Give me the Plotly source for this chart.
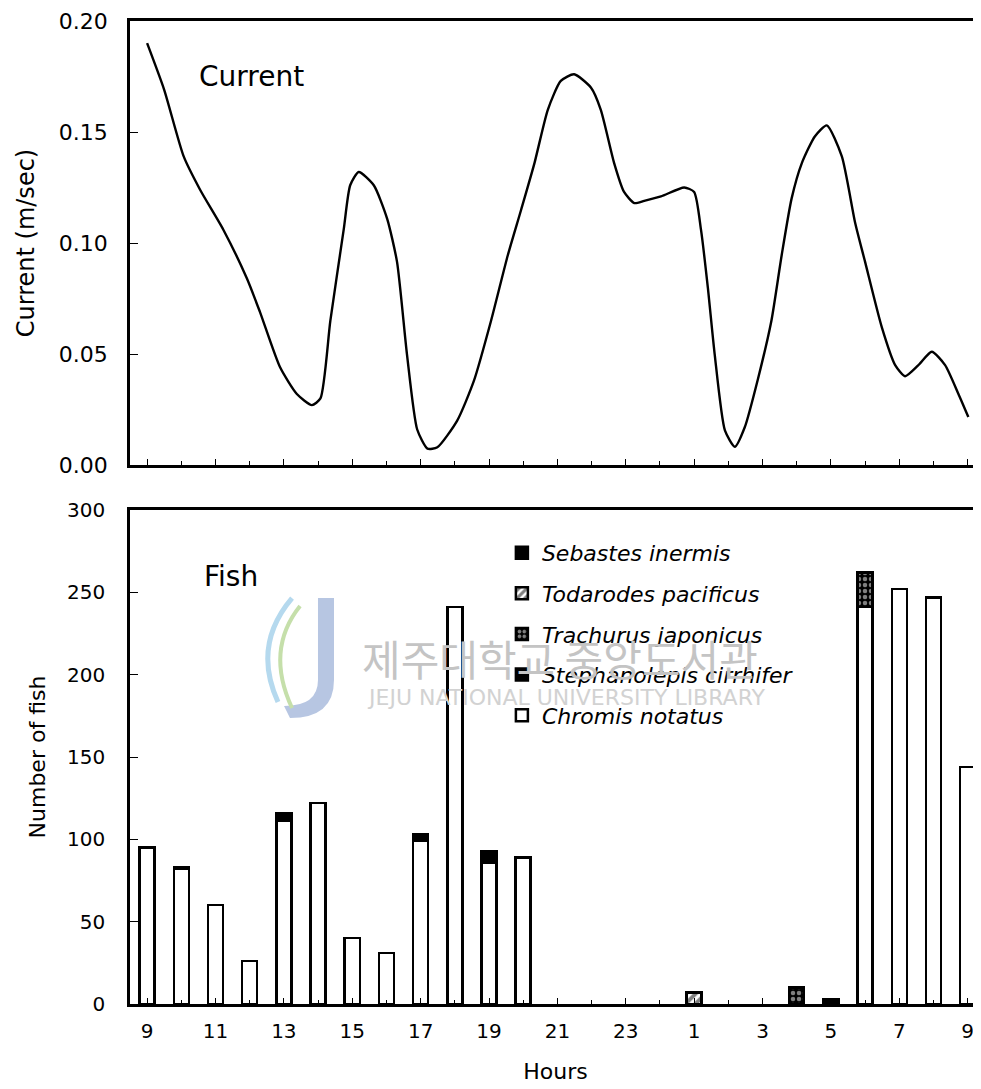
import plotly.graph_objects as go
from plotly.subplots import make_subplots

# ---- data ----
hour_labels = ["9","10","11","12","13","14","15","16","17","18","19","20","21","22","23",
               "0","1","2","3","4","5","6","7","8","9"]
tick_idx = [0, 2, 4, 6, 8, 10, 12, 14, 16, 18, 20, 22, 24]
tick_text = ["9","11","13","15","17","19","21","23","1","3","5","7","9"]

# current curve (hour index from 09:00, m/sec)
cur_t = [0.0, 0.5, 1.07, 1.55, 2.23, 2.92, 3.3, 3.89, 4.38, 4.82, 5.07, 5.36, 5.75, 5.94, 6.19,
         6.63, 7.02, 7.31, 7.6, 7.9, 8.2, 8.49, 9.07, 9.56, 10.06, 10.55, 10.94, 11.33, 11.72,
         12.1, 12.49, 12.98, 13.27, 13.66, 13.95, 14.25, 14.54, 15.03, 15.71, 16.0, 16.2, 16.4,
         16.6, 16.9, 17.19, 17.48, 17.87, 18.26, 18.56, 18.85, 19.15, 19.53, 19.88, 20.32, 20.71,
         21.0, 21.49, 21.88, 22.17, 22.56, 22.95, 23.34, 23.73, 24.02]
cur_v = [0.190, 0.169, 0.139, 0.124, 0.106, 0.084, 0.069, 0.044, 0.032, 0.027, 0.030, 0.065,
         0.106, 0.126, 0.132, 0.126, 0.111, 0.0915, 0.050, 0.016, 0.0074, 0.008, 0.020, 0.038,
         0.065, 0.0945, 0.115, 0.136, 0.160, 0.173, 0.176, 0.170, 0.160, 0.136, 0.123, 0.118,
         0.119, 0.121, 0.125, 0.123, 0.106, 0.080, 0.050, 0.0156, 0.0082, 0.017, 0.039, 0.065,
         0.0945, 0.120, 0.136, 0.148, 0.153, 0.139, 0.109, 0.0915, 0.062, 0.045, 0.040, 0.045,
         0.051, 0.045, 0.032, 0.0216]

# fish counts per hour (None = no catch)
chromis = [95, 82, 60, 26, 111, 122, 40, 31, 99, 241, 86, 89, None, None, None,
           None, None, None, None, None, None, 241, 252, 247, 144]
stephanolepis = [None, None, None, None, 5, None, None, None, 4, None, None, None, None, None, None,
                 None, None, None, None, None, None, None, None, None, None]
trachurus = [None, None, None, None, None, None, None, None, None, None, None, None, None, None, None,
             None, None, None, None, 10, None, 21, None, None, None]
todarodes = [None, None, None, None, None, None, None, None, None, None, None, None, None, None, None,
             None, 7, None, None, None, None, None, None, None, None]
sebastes = [None, 1, None, None, None, None, None, None, None, None, 7, None, None, None, None,
            None, None, None, None, None, 3, None, None, None, None]

x_idx = list(range(len(hour_labels)))

FONT = "DejaVu Sans"

fig = make_subplots(rows=2, cols=1, vertical_spacing=0.0)

fig.add_trace(go.Scatter(x=cur_t, y=cur_v, mode="lines", line=dict(color="black", width=2.4,
                         shape="spline", smoothing=0.6), showlegend=False), row=1, col=1)

series = [
    ("Chromis notatus", chromis, dict(color="white"), 5),
    ("Stephanolepis cirrhifer", stephanolepis, dict(color="black"), 4),
    ("Trachurus japonicus", trachurus, dict(color="black",
        pattern=dict(shape=".", fgcolor="white", bgcolor="black", size=6, solidity=0.45)), 3),
    ("Todarodes pacificus", todarodes, dict(color="white",
        pattern=dict(shape="/", fgcolor="black", bgcolor="white", size=7, solidity=0.55)), 2),
    ("Sebastes inermis", sebastes, dict(color="black"), 1),
]
for name, vals, mk, rank in series:
    mk = dict(mk)
    mk["line"] = dict(color="black", width=2.5)
    fig.add_trace(go.Bar(x=x_idx, y=vals, name=name, marker=mk, width=0.44,
                         legendgroup=name, legendrank=rank), row=2, col=1)

# page body has an 8px default margin: figure is sized/offset to compensate
fig.update_layout(
    width=973, height=1081,
    margin=dict(l=122, r=0, t=13, b=85),
    paper_bgcolor="white", plot_bgcolor="white",
    barmode="stack",
    font=dict(family=FONT, color="black", size=20),
    legend=dict(x=0.437, y=0.4802, xanchor="left", yanchor="top", traceorder="grouped",
                font=dict(family=FONT, size=22, style="italic"), tracegroupgap=9,
                bgcolor="rgba(0,0,0,0)", itemwidth=30),
)

fig.update_yaxes(domain=[0.5483, 1.0], row=1, col=1)
fig.update_yaxes(domain=[0.0, 0.5025], row=2, col=1)

xcommon = dict(range=[-0.5, 24.39], showline=True, linecolor="black", linewidth=3, mirror=True,
               showgrid=False, zeroline=False, ticks="inside", ticklen=6, tickcolor="black",
               tickvals=tick_idx, ticktext=tick_text, automargin=False,
               minor=dict(tickvals=x_idx, ticks="inside", ticklen=4, tickcolor="black"))
fig.update_xaxes(**xcommon, showticklabels=False, row=1, col=1)
fig.update_xaxes(**xcommon, tickfont=dict(size=20), ticklabelstandoff=7, ticklabeloverflow="allow",
                 title=dict(text="Hours", font=dict(size=22), standoff=22), row=2, col=1)

fig.update_yaxes(range=[0, 0.2], tickvals=[0, 0.05, 0.10, 0.15, 0.20],
                 ticktext=["0.00", "0.05", "0.10", "0.15", "0.20"], automargin=False,
                 showline=True, linecolor="black", linewidth=2.5, showgrid=False, zeroline=False,
                 ticks="inside", ticklen=8, tickcolor="black", tickfont=dict(size=22),
                 ticklabelstandoff=15, ticklabeloverflow="allow",
                 title=dict(text="Current (m/sec)", font=dict(size=24), standoff=18), row=1, col=1)
fig.update_yaxes(range=[0, 300], tickvals=[0, 50, 100, 150, 200, 250, 300], automargin=False,
                 showline=True, linecolor="black", linewidth=2.5, showgrid=False, zeroline=False,
                 ticks="inside", ticklen=8, tickcolor="black", tickfont=dict(size=20),
                 ticklabelstandoff=18, ticklabeloverflow="allow",
                 title=dict(text="Number of fish", font=dict(size=22), standoff=16), row=2, col=1)

fig.add_annotation(text="Current", x=0.0787, y=0.876, xref="x domain", yref="y domain",
                   xanchor="left", yanchor="middle", showarrow=False, font=dict(size=28))
fig.add_annotation(text="Fish", x=0.0846, y=0.866, xref="x2 domain", yref="y2 domain",
                   xanchor="left", yanchor="middle", showarrow=False, font=dict(size=28))

# ---- scan watermark (library stamp) ----
def dx(px):
    return (px - 130) / 851.0

def dy(py):
    return (1004 - py) / 494.0

def wm_path(pts_cmds):
    out = []
    for cmd, pts in pts_cmds:
        out.append(cmd + " " + " ".join(f"{dx(a):.4f},{dy(b):.4f}" for a, b in pts))
    return " ".join(out)

j_path = wm_path([("M", [(318, 598)]), ("L", [(334, 598)]), ("L", [(334, 680)]),
                  ("Q", [(334, 718), (290, 718)]), ("L", [(284, 706)]),
                  ("Q", [(318, 706), (318, 680)])]) + " Z"
fig.add_shape(type="path", path=j_path, xref="x2 domain", yref="y2 domain",
              fillcolor="#b7c6e2", line=dict(width=0), layer="below")
fig.add_shape(type="path", path=wm_path([("M", [(292, 598)]), ("Q", [(252, 645), (278, 702)])]),
              xref="x2 domain", yref="y2 domain", line=dict(color="#b5d9ee", width=5), layer="below")
fig.add_shape(type="path", path=wm_path([("M", [(300, 606)]), ("Q", [(265, 650), (292, 708)])]),
              xref="x2 domain", yref="y2 domain", line=dict(color="#c5dfaa", width=4), layer="below")

fig.add_annotation(text="제주대학교 중앙도서관", x=0.505, y=0.767, xref="x2 domain", yref="y2 domain",
                   showarrow=False, font=dict(family="Noto Sans CJK KR", size=42, color="#c4c4c4"))
fig.add_annotation(text="JEJU NATIONAL UNIVERSITY LIBRARY", x=0.513, y=0.621, xref="x2 domain",
                   yref="y2 domain", showarrow=False,
                   font=dict(family=FONT, size=22, color="#d2d2d2"))

fig.write_html("out.html")
